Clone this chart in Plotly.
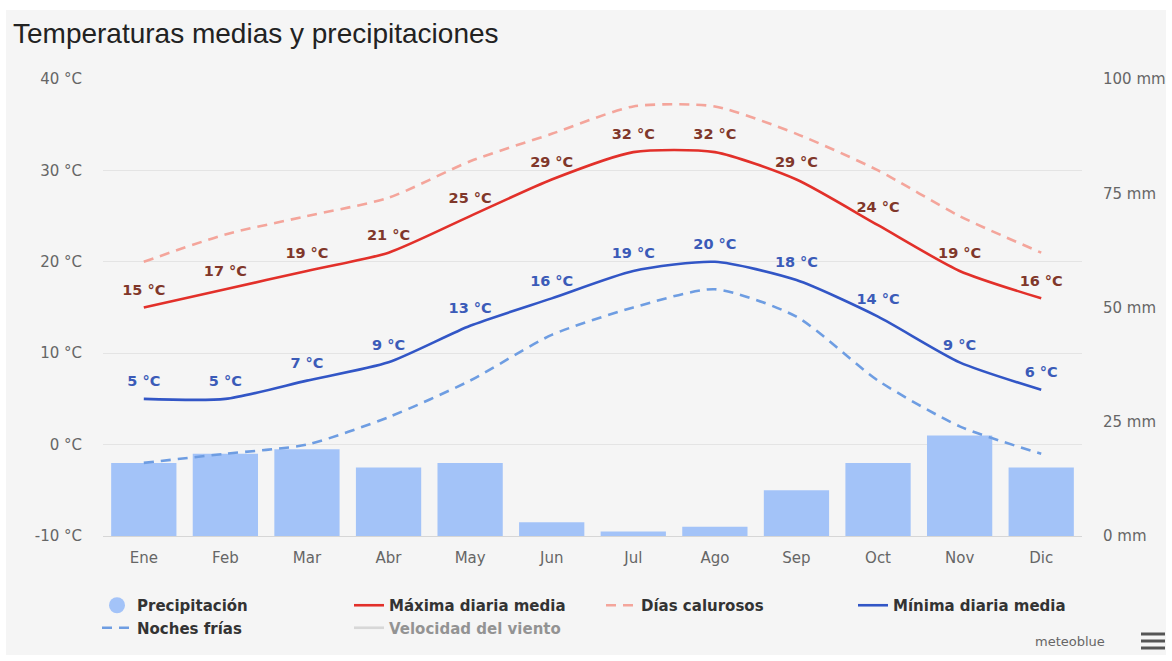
import plotly.graph_objects as go

# ---------------- data ----------------
months = ["Ene", "Feb", "Mar", "Abr", "May", "Jun", "Jul", "Ago", "Sep", "Oct", "Nov", "Dic"]
precip_mm = [16, 18, 19, 15, 16, 3, 1, 2, 10, 16, 22, 15]
max_daily = [15, 17, 19, 21, 25, 29, 32, 32, 29, 24, 19, 16]
hot_days = [20, 23, 25, 27, 31, 34, 37, 37, 34, 30, 25, 21]
min_daily = [5, 5, 7, 9, 13, 16, 19, 20, 18, 14, 9, 6]
cold_nights = [-2, -1, 0, 3, 7, 12, 15, 17, 14, 7, 2, -1]
# wind speed is switched off (legend only) in the reference; its values are not shown
wind_speed = [None, None, None, None, None, None, None, None, None, None, None, None]

temp_ticks = [-10, 0, 10, 20, 30, 40]
precip_ticks = [0, 25, 50, 75, 100]

# ---------------- layout geometry ----------------
W, H = 1172, 661
ML, MR, MT, MB = 103, 90, 79, 125
PW, PH = W - ML - MR, H - MT - MB


def px_x(x):
    return (x - ML) / PW


def px_y(y):
    return (H - MB - y) / PH


FONT = "DejaVu Sans"
BAR_C = "#a3c3f8"
MAX_C = "#e2302a"
MAX_LBL = "#80372a"
HOT_C = "#f4a59b"
MIN_C = "#3256c6"
MIN_LBL = "#3b5bb8"
COLD_C = "#6e9de2"
WIND_C = "#bbbbbb"
SMOOTH = 0.65

fig = go.Figure()

# precipitation bars (primary y, right side, mm)
fig.add_trace(go.Bar(
    x=months, y=precip_mm, name="Precipitación", legendgroup="precip",
    showlegend=False, marker=dict(color=BAR_C, line=dict(width=0)),
    yaxis="y",
))
# round legend symbol for precipitation
fig.add_trace(go.Scatter(
    x=[None], y=[None], mode="markers", name="Precipitación", legendgroup="precip",
    marker=dict(size=16, color=BAR_C), yaxis="y", hoverinfo="skip",
))

LBL_MARK = dict(size=13, color="rgba(0,0,0,0)")

fig.add_trace(go.Scatter(
    x=months, y=max_daily, name="Máxima diaria media", yaxis="y2",
    mode="lines+markers+text", text=[f"{v} °C" for v in max_daily], textposition="top center",
    textfont=dict(family=FONT, size=14.5, color=MAX_LBL, weight="bold"),
    marker=LBL_MARK,
    line=dict(color=MAX_C, width=2.6, shape="spline", smoothing=SMOOTH),
    cliponaxis=False,
))
fig.add_trace(go.Scatter(
    x=months, y=hot_days, name="Días calurosos", yaxis="y2", mode="lines",
    line=dict(color=HOT_C, width=2.6, dash="10px,7px", shape="spline", smoothing=SMOOTH),
))
fig.add_trace(go.Scatter(
    x=months, y=min_daily, name="Mínima diaria media", yaxis="y2",
    mode="lines+markers+text", text=[f"{v} °C" for v in min_daily], textposition="top center",
    textfont=dict(family=FONT, size=14.5, color=MIN_LBL, weight="bold"),
    marker=LBL_MARK,
    line=dict(color=MIN_C, width=2.6, shape="spline", smoothing=SMOOTH),
    cliponaxis=False,
))
fig.add_trace(go.Scatter(
    x=months, y=cold_nights, name="Noches frías", yaxis="y2", mode="lines",
    line=dict(color=COLD_C, width=2.6, dash="10px,7px", shape="spline", smoothing=SMOOTH),
))
fig.add_trace(go.Scatter(
    x=months, y=wind_speed, name="Velocidad del viento", yaxis="y2", mode="lines",
    line=dict(color=WIND_C, width=2.6), visible="legendonly",
))

fig.update_layout(
    width=W, height=H,
    margin=dict(l=ML, r=MR, t=MT, b=MB, autoexpand=False),
    paper_bgcolor="#ffffff",
    plot_bgcolor="rgba(0,0,0,0)",
    font=dict(family=FONT, size=15, color="#666666"),
    bargap=0.2,
    showlegend=True,
    title=dict(
        text="Temperaturas medias y precipitaciones",
        font=dict(family="Liberation Sans", size=28, color="#222222"),
        xref="container", yref="container", x=13 / W, xanchor="left",
        y=1 - 33 / H, yanchor="middle",
    ),
    xaxis=dict(
        type="category", range=[-0.5, len(months) - 0.5],
        showgrid=False, zeroline=False,
        showline=True, linecolor="#d6d6d6", linewidth=1,
        ticks="", ticklabelstandoff=8,
        tickfont=dict(family=FONT, size=15, color="#666666"),
    ),
    yaxis=dict(
        side="right", range=[0, 100], tickvals=precip_ticks,
        ticktext=[f"{v} mm" for v in precip_ticks],
        showgrid=False, zeroline=False, ticks="", ticklabelstandoff=20,
        tickfont=dict(family=FONT, size=15, color="#666666"),
    ),
    yaxis2=dict(
        overlaying="y", side="left", range=[-10, 40], tickvals=temp_ticks,
        ticktext=[f"{v} °C" for v in temp_ticks],
        showgrid=True, gridcolor="#e4e4e4", gridwidth=1, zeroline=False,
        ticks="", ticklabelstandoff=20,
        tickfont=dict(family=FONT, size=15, color="#666666"),
    ),
    legend=dict(
        orientation="h", x=px_x(97), xanchor="left", y=px_y(589), yanchor="top",
        entrywidthmode="pixels", entrywidth=207, itemwidth=30,
        font=dict(family=FONT, size=15, color="#333333", weight="bold"),
        bgcolor="rgba(0,0,0,0)", traceorder="normal",
    ),
    hovermode=False,
)

# light-grey chart container with a thin white border
fig.add_shape(
    type="rect", xref="paper", yref="paper", layer="below",
    x0=px_x(6), x1=px_x(1166), y0=px_y(655), y1=px_y(10),
    fillcolor="#f5f5f5", line=dict(width=0),
)

# credit + menu icon
fig.add_annotation(
    text="meteoblue", xref="paper", yref="paper", x=px_x(1107), y=px_y(641),
    xanchor="right", yanchor="middle", showarrow=False,
    font=dict(family=FONT, size=13, color="#666666"),
)
for yy in (634, 641, 648):
    fig.add_shape(
        type="rect", xref="paper", yref="paper",
        x0=px_x(1141), x1=px_x(1165), y0=px_y(yy + 1.5), y1=px_y(yy - 1.5),
        fillcolor="#555555", line=dict(width=0),
    )

fig.write_html(
    "out.html",
    config={"displayModeBar": False},
    post_script="document.body.style.margin='0';",
)
